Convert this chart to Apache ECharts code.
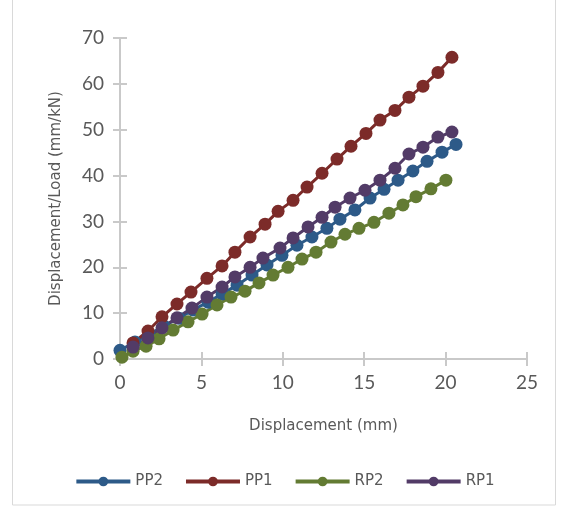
<!DOCTYPE html>
<html><head><meta charset="utf-8">
<script src="https://cdn.jsdelivr.net/npm/echarts@6/dist/echarts.min.js"></script>
<style>html,body{margin:0;padding:0;background:#fff}#c{width:569px;height:510px}</style>
</head><body><div id="c"></div>
<script>
var seriesNames = ['PP2', 'PP1', 'RP2', 'RP1'];
var xTicks = [0, 5, 10, 15, 20, 25];
var yTicks = [0, 10, 20, 30, 40, 50, 60, 70];

var pp2X = [0, 0.92, 1.78, 2.70, 3.62, 4.48, 5.41, 6.27, 7.19, 8.11, 9.03, 9.95, 10.87, 11.79, 12.71, 13.51, 14.43, 15.36, 16.22, 17.08, 17.99, 18.86, 19.78, 20.64];
var pp2Y = [1.9, 3.7, 5.4, 7.2, 8.9, 10.7, 12.4, 14.2, 16.1, 18.3, 20.5, 22.6, 24.8, 26.6, 28.5, 30.5, 32.5, 35.1, 37.0, 39.0, 41.0, 43.1, 45.1, 46.8];

var pp1X = [0.80, 1.72, 2.58, 3.50, 4.36, 5.34, 6.27, 7.06, 7.99, 8.91, 9.71, 10.63, 11.49, 12.41, 13.33, 14.19, 15.11, 15.97, 16.89, 17.75, 18.61, 19.53, 20.39];
var pp1Y = [3.5, 6.1, 9.2, 12.0, 14.6, 17.6, 20.3, 23.3, 26.6, 29.4, 32.2, 34.6, 37.5, 40.5, 43.6, 46.4, 49.2, 52.1, 54.2, 57.1, 59.5, 62.5, 65.8];

var rp2X = [0.12, 0.80, 1.60, 2.40, 3.26, 4.18, 5.04, 5.96, 6.82, 7.68, 8.54, 9.40, 10.32, 11.18, 12.04, 12.96, 13.82, 14.68, 15.60, 16.52, 17.38, 18.18, 19.10, 20.02];
var rp2Y = [0.4, 1.7, 2.8, 4.4, 6.3, 8.1, 9.8, 11.8, 13.5, 14.8, 16.6, 18.3, 20.0, 21.8, 23.3, 25.5, 27.2, 28.5, 29.8, 31.8, 33.6, 35.4, 37.1, 39.0];

var rp1X = [0.80, 1.72, 2.58, 3.50, 4.42, 5.34, 6.27, 7.06, 7.99, 8.78, 9.83, 10.63, 11.55, 12.41, 13.21, 14.13, 15.05, 15.97, 16.89, 17.75, 18.61, 19.53, 20.39];
var rp1Y = [2.6, 4.6, 6.8, 9.0, 11.1, 13.5, 15.7, 17.9, 20.0, 22.0, 24.2, 26.4, 28.8, 30.9, 33.1, 35.1, 36.8, 39.0, 41.6, 44.7, 46.2, 48.4, 49.5];

var colors = ['#2d5a88', '#7c2b29', '#637b33', '#523b67'];
function pairs(xs, ys) { return xs.map(function (x, i) { return [x, ys[i]]; }); }
var allData = [pairs(pp2X, pp2Y), pairs(pp1X, pp1Y), pairs(rp2X, rp2Y), pairs(rp1X, rp1Y)];

var FONT = 'Lato';
var NAMEFONT = 'DejaVu Sans';
var axisColor = '#c9c9c9';
var labelColor = '#595959';

var chart = echarts.init(document.getElementById('c'));
chart.setOption({
  animation: false,
  textStyle: { fontFamily: FONT },
  color: colors,
  graphic: [{
    type: 'rect', shape: { x: 12.5, y: -2, width: 543, height: 507 },
    style: { fill: 'none', stroke: '#d9d9d9', lineWidth: 1 }, silent: true
  }],
  grid: { left: 120, right: 42, top: 38, bottom: 151 },
  legend: {
    data: seriesNames, bottom: 16, left: 'center',
    itemWidth: 54, itemHeight: 12, itemGap: 21,
    lineStyle: { width: 4 },
    textStyle: { color: labelColor, fontSize: 15, fontFamily: NAMEFONT, padding: [0, 0, 0, 0] }
  },
  xAxis: [{
    type: 'value', min: 0, max: 25, interval: 5,
    name: 'Displacement (mm)', nameLocation: 'middle', nameGap: 60,
    nameTextStyle: { color: labelColor, fontSize: 15, fontFamily: NAMEFONT },
    axisLine: { lineStyle: { color: axisColor, width: 2 } },
    axisTick: { show: true, length: 7, lineStyle: { color: axisColor, width: 2 } },
    axisLabel: { color: labelColor, fontSize: 19, margin: 14, fontFamily: FONT },
    splitLine: { show: false }
  }, {
    type: 'value', min: 0, max: 25, interval: 5, position: 'bottom',
    axisLine: { show: false },
    axisTick: { show: true, inside: true, length: 7, lineStyle: { color: axisColor, width: 2 } },
    axisLabel: { show: false }, splitLine: { show: false }
  }],
  yAxis: [{
    type: 'value', min: 0, max: 70, interval: 10,
    name: 'Displacement/Load (mm/kN)', nameLocation: 'middle', nameGap: 56,
    nameTextStyle: { color: labelColor, fontSize: 15, fontFamily: NAMEFONT },
    axisLine: { show: true, lineStyle: { color: axisColor, width: 2 } },
    axisTick: { show: true, length: 7, lineStyle: { color: axisColor, width: 2 } },
    axisLabel: { color: labelColor, fontSize: 19, margin: 16, fontFamily: FONT },
    splitLine: { show: false }
  }, {
    type: 'value', min: 0, max: 70, interval: 10, position: 'left',
    axisLine: { show: false },
    axisTick: { show: true, inside: true, length: 7, lineStyle: { color: axisColor, width: 2 } },
    axisLabel: { show: false }, splitLine: { show: false }
  }],
  series: seriesNames.map(function (n, i) {
    return {
      name: n, type: 'line', data: allData[i],
      symbol: 'circle', symbolSize: 13,
      lineStyle: { width: 3, color: colors[i] },
      itemStyle: { color: colors[i] }
    };
  })
});
</script></body></html>
